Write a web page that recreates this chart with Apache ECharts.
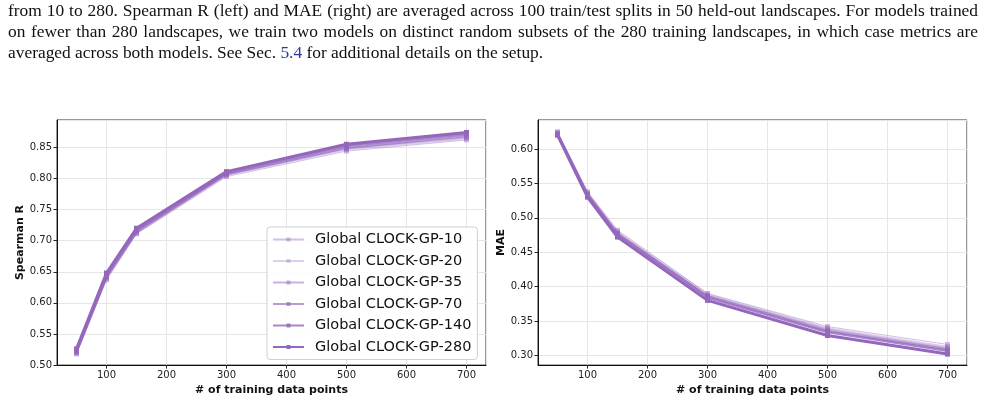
<!DOCTYPE html>
<html>
<head>
<meta charset="utf-8">
<script src="https://cdn.jsdelivr.net/npm/echarts@6/dist/echarts.min.js"></script>
<style>
  html, body { margin: 0; padding: 0; background: #fff; }
  #wrap { position: relative; width: 985px; height: 401px; overflow: hidden; }
  #main { position: absolute; left: 0; top: 0; width: 985px; height: 401px; }
  #caption { position: absolute; left: 8px; top: 0px; width: 970px;
    font-family: 'Liberation Serif', serif; font-size: 17.4px; line-height: 21px; color: #111; }
  #caption .j { text-align: justify; text-align-last: justify; white-space: nowrap; }
  #caption a { color: #2b3a9b; text-decoration: none; }
</style>
</head>
<body>
<div id="wrap">
  <div id="main"></div>
  <div id="caption">
    <div class="j">from 10 to 280. Spearman R (left) and MAE (right) are averaged across 100 train/test splits in 50 held-out landscapes. For models trained</div>
    <div class="j">on fewer than 280 landscapes, we train two models on distinct random subsets of the 280 training landscapes, in which case metrics are</div>
    <div>averaged across both models. See Sec. <a>5.4</a> for additional details on the setup.</div>
  </div>
</div>
<script>
// 训练点数
const trainSizes = [50, 100, 150, 300, 500, 700];
const modelNames = ['Global CLOCK-GP-10', 'Global CLOCK-GP-20', 'Global CLOCK-GP-35',
  'Global CLOCK-GP-70', 'Global CLOCK-GP-140', 'Global CLOCK-GP-280'];

// Spearman R (左图)
const spearman10  = [0.518, 0.637, 0.711, 0.803, 0.844, 0.862];
const spearman20  = [0.519, 0.639, 0.712, 0.805, 0.846, 0.864];
const spearman35  = [0.520, 0.640, 0.713, 0.806, 0.848, 0.866];
const spearman70  = [0.521, 0.642, 0.715, 0.807, 0.849, 0.868];
const spearman140 = [0.523, 0.645, 0.717, 0.809, 0.852, 0.871];
const spearman280 = [0.526, 0.648, 0.720, 0.811, 0.855, 0.874];

// MAE (右图)
const mae10  = [0.625, 0.538, 0.482, 0.390, 0.342, 0.316];
const mae20  = [0.624, 0.536, 0.480, 0.389, 0.340, 0.313];
const mae35  = [0.623, 0.535, 0.478, 0.387, 0.338, 0.311];
const mae70  = [0.622, 0.534, 0.477, 0.386, 0.336, 0.309];
const mae140 = [0.621, 0.533, 0.475, 0.384, 0.334, 0.307];
const mae280 = [0.620, 0.530, 0.472, 0.380, 0.329, 0.302];

const spearmanAll = [spearman10, spearman20, spearman35, spearman70, spearman140, spearman280];
const maeAll = [mae10, mae20, mae35, mae70, mae140, mae280];

// 样式
const alphas = [0.42, 0.32, 0.5, 0.65, 0.8, 1.0];
const widths = [1, 1.5, 1.5, 2, 2.5, 3];

const myChart = echarts.init(document.getElementById('main'));

const font = 'DejaVu Sans';
function xAxisOf(idx) {
  return {
    gridIndex: idx, type: 'value', min: 17.5, max: 732.5,
    minInterval: 100, maxInterval: 100,
    name: '# of training data points', nameLocation: 'middle', nameGap: 15,
    nameTextStyle: { fontFamily: font, fontWeight: 'bold', fontSize: 11, color: '#111' },
    axisLine: { show: true, lineStyle: { color: '#111', width: 1 } },
    axisTick: { show: true, length: 3.5, lineStyle: { color: '#222' } },
    axisLabel: { fontFamily: font, fontSize: 10, color: '#222', margin: 5, showMinLabel: false, showMaxLabel: false },
    splitLine: { show: true, lineStyle: { color: '#e6e6e6', width: 1 } }
  };
}
function yAxisOf(idx, name, min, max, showMin) {
  return {
    gridIndex: idx, type: 'value', min: min, max: max,
    minInterval: 0.05, maxInterval: 0.05,
    name: name, nameLocation: 'middle', nameGap: 26,
    nameTextStyle: { fontFamily: font, fontWeight: 'bold', fontSize: 11, color: '#111' },
    axisLine: { show: true, lineStyle: { color: '#111', width: 1 } },
    axisTick: { show: true, length: 3.5, lineStyle: { color: '#222' } },
    axisLabel: { fontFamily: font, fontSize: 10, color: '#222', margin: 5,
      showMinLabel: showMin, showMaxLabel: false,
      formatter: v => v.toFixed(2) },
    splitLine: { show: true, lineStyle: { color: '#e6e6e6', width: 1 } }
  };
}

const series = [];
modelNames.forEach((name, i) => {
  const color = 'rgba(148,103,189,' + alphas[i] + ')';
  [spearmanAll, maeAll].forEach((arr, g) => {
    series.push({
      name: name, type: 'line', xAxisIndex: g, yAxisIndex: g,
      data: trainSizes.map((x, k) => [x, arr[i][k]]),
      symbol: 'rect', symbolSize: 5, showSymbol: true,
      itemStyle: { color: color },
      lineStyle: { color: color, width: widths[i] },
      emphasis: { disabled: true }, z: 2 + i
    });
  });
});

const option = {
  animation: false,
  grid: [
    { left: 57, top: 120, width: 429, height: 248, show: true, borderColor: '#333', borderWidth: 1, backgroundColor: 'transparent' },
    { left: 538, top: 120, width: 429, height: 248, show: true, borderColor: '#333', borderWidth: 1, backgroundColor: 'transparent' }
  ],
  xAxis: [xAxisOf(0), xAxisOf(1)],
  yAxis: [yAxisOf(0, 'Spearman R', 0.5, 0.894, true), yAxisOf(1, 'MAE', 0.286, 0.642, false)],
  legend: {
    orient: 'vertical', left: 267, top: 227,
    data: modelNames,
    itemWidth: 31, itemHeight: 5, itemGap: 6.5,
    padding: [5, 6, 5, 5],
    backgroundColor: 'rgba(255,255,255,0.85)', borderColor: '#d0d0d0', borderWidth: 1, borderRadius: 3,
    textStyle: { fontFamily: font, fontSize: 14.5, color: '#111', lineHeight: 15, padding: [0, 0, 0, 6] }
  },
  series: series
};
option && myChart.setOption(option);
</script>
</body>
</html>
